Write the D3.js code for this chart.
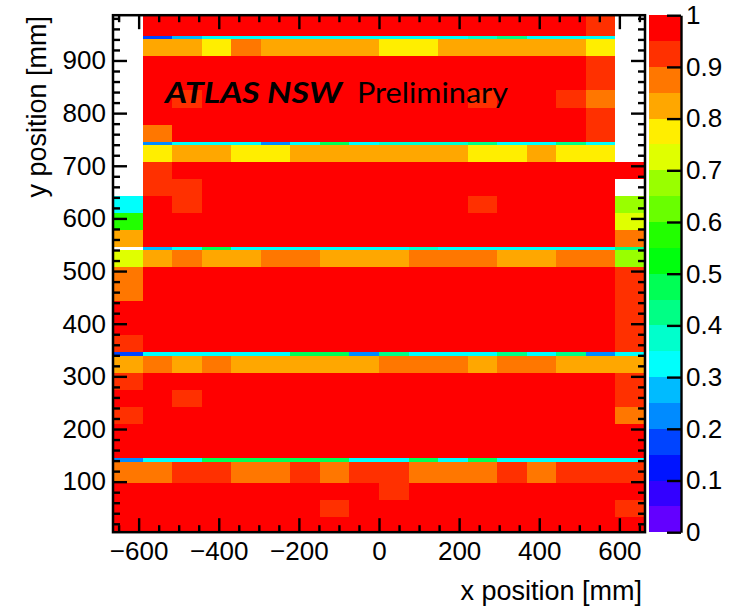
<!DOCTYPE html>
<html>
<head>
<meta charset="utf-8">
<script src="https://cdn.jsdelivr.net/npm/d3@7"></script>
<style>
  body { margin: 0; background: #fff; }
  svg { display: block; }
</style>
</head>
<body>
<div id="chart"></div>
<script>
const width = 742;
const height = 612;
const frame = { left: 113, right: 645, top: 15.2, bottom: 532.2 };

// histogram binning
const xMin = -664, xMax = 664, nBinsX = 18;
// y bin edges in mm, bottom -> top (narrow bins are the gaps between boards)
const yEdges = [4, 33.6, 65.3, 98.1, 136.8, 144.4, 176.8, 209.2, 241.6, 274, 306.4, 338.8,
  346.5, 378.6, 410.7, 442.8, 474.9, 507, 539.1, 545.8, 578.1, 610.4, 642.7, 675, 707.3, 739.6,
  745.8, 778.2, 810.6, 843, 875.4, 907.8, 940, 946.6, 986];

// efficiency per cell, rows listed top -> bottom, 18 x-bins each (null = empty)
const efficiency = [
  [null,.97,.97,.97,.97,.97,.97,.97,.97,.97,.97,.97,.97,.97,.97,.97,.93,null],
  [null,.18,.28,.33,.33,.33,.33,.33,.33,.33,.33,.33,.38,.43,.33,.33,.33,null],
  [null,.83,.83,.78,.88,.83,.83,.83,.83,.78,.78,.83,.83,.83,.83,.83,.78,null],
  [null,.97,.97,.97,.97,.97,.97,.97,.97,.97,.97,.97,.97,.97,.97,.97,.93,null],
  [null,.97,.97,.97,.97,.97,.97,.97,.97,.97,.97,.97,.97,.97,.97,.97,.93,null],
  [null,.97,.93,.97,.97,.97,.97,.97,.97,.97,.97,.97,.93,.97,.97,.93,.88,null],
  [null,.97,.97,.97,.97,.97,.97,.97,.97,.97,.97,.97,.97,.97,.97,.97,.93,null],
  [null,.88,.97,.97,.97,.97,.97,.97,.97,.97,.97,.97,.97,.97,.97,.97,.93,null],
  [null,.23,.33,.33,.33,.23,.33,.48,.33,.38,.38,.38,.43,.33,.33,.43,.33,null],
  [null,.78,.83,.83,.78,.78,.83,.83,.83,.83,.83,.83,.78,.78,.83,.78,.78,null],
  [null,.93,.97,.97,.97,.97,.97,.97,.97,.97,.97,.97,.97,.97,.97,.97,.97,.97],
  [null,.93,.93,.97,.97,.97,.97,.97,.97,.97,.97,.97,.97,.97,.97,.97,.97,null],
  [.33,.97,.93,.97,.97,.97,.97,.97,.97,.97,.97,.97,.93,.97,.97,.97,.97,.68],
  [.58,.97,.97,.97,.97,.97,.97,.97,.97,.97,.97,.97,.97,.97,.97,.97,.97,.73],
  [.83,.97,.97,.97,.97,.97,.97,.97,.97,.97,.97,.97,.97,.97,.97,.97,.97,.88],
  [null,.28,.33,.48,.33,.33,.33,.33,.33,.33,.38,.33,.33,.33,.33,.33,.33,.43],
  [.73,.83,.88,.83,.83,.88,.88,.83,.83,.83,.88,.88,.88,.83,.83,.88,.88,.68],
  [.88,.97,.97,.97,.97,.97,.97,.97,.97,.97,.97,.97,.97,.97,.97,.97,.97,.93],
  [.88,.97,.97,.97,.97,.97,.97,.97,.97,.97,.97,.97,.97,.97,.97,.97,.97,.93],
  [.97,.97,.97,.97,.97,.97,.97,.97,.97,.97,.97,.97,.97,.97,.97,.97,.97,.93],
  [.97,.97,.97,.97,.97,.97,.97,.97,.97,.97,.97,.97,.97,.97,.97,.97,.97,.93],
  [.93,.97,.97,.97,.97,.97,.97,.97,.97,.97,.97,.97,.97,.97,.97,.97,.97,.93],
  [.18,.33,.33,.33,.33,.33,.48,.48,.23,.43,.33,.33,.33,.43,.33,.43,.23,.33],
  [.83,.88,.83,.88,.83,.83,.83,.83,.83,.88,.88,.88,.83,.88,.88,.83,.83,.83],
  [.93,.97,.97,.97,.97,.97,.97,.97,.97,.97,.97,.97,.97,.97,.97,.97,.97,.93],
  [.97,.97,.93,.97,.97,.97,.97,.97,.97,.97,.97,.97,.97,.97,.97,.97,.97,.93],
  [.93,.97,.97,.97,.97,.97,.97,.97,.97,.97,.97,.97,.97,.97,.97,.97,.97,.88],
  [.97,.97,.97,.97,.97,.97,.97,.97,.97,.97,.97,.97,.97,.97,.97,.97,.97,.97],
  [.97,.97,.97,.97,.97,.97,.97,.97,.97,.97,.97,.97,.97,.97,.97,.97,.97,.97],
  [.23,.33,.33,.48,.48,.48,.48,.48,.33,.33,.48,.33,.48,.33,.33,.33,.33,.33],
  [.88,.88,.93,.93,.88,.88,.93,.88,.93,.93,.88,.88,.88,.93,.88,.93,.93,.93],
  [.97,.97,.97,.97,.97,.97,.97,.97,.97,.93,.97,.97,.97,.97,.97,.97,.97,.97],
  [.97,.97,.97,.97,.97,.97,.97,.93,.97,.97,.97,.97,.97,.97,.97,.97,.97,.93],
  [.97,.97,.97,.97,.97,.97,.97,.97,.97,.97,.97,.97,.97,.97,.97,.97,.97,.97]
];

const xTicks = [-600, -400, -200, 0, 200, 400, 600];
const yTicks = [100, 200, 300, 400, 500, 600, 700, 800, 900];
const zTicks = [0, 0.1, 0.2, 0.3, 0.4, 0.5, 0.6, 0.7, 0.8, 0.9, 1];

const xTitle = "x position [mm]";
const yTitle = "y position [mm]";

// ROOT "pretty" palette, 20 contour levels
const nLevels = 20;
const palette = d3.range(nLevels).map(i => {
    const idx = Math.floor((i + 0.99) * 50 / nLevels);
    return idx >= 49 ? "#ff0000" : d3.hsl(280 - (idx + 1) * 5.6, 1, 0.5).formatHex();
});

const svg = d3.select("#chart")
    .append("svg")
    .attr("width", width)
    .attr("height", height)
    .style("font-family", "'Liberation Sans', Arial, sans-serif");

svg.append("rect").attr("width", width).attr("height", height).attr("fill", "#fff");

const x = d3.scaleLinear().domain([xMin, xMax]).range([frame.left, frame.right]);
const y = d3.scaleLinear().domain([yEdges[0], yEdges[yEdges.length - 1]]).range([frame.bottom, frame.top]);
const z = d3.scaleLinear().domain([0, 1]).range([frame.bottom, frame.top]);
const color = d3.scaleQuantize().domain([0, 1]).range(palette);

const binW = (xMax - xMin) / nBinsX;
const nRows = efficiency.length;
const cells = [];
efficiency.forEach((row, r) => {
    const lo = yEdges[nRows - 1 - r], hi = yEdges[nRows - r];
    row.forEach((v, c) => {
        if (v == null) return;
        cells.push({ x0: xMin + c * binW, x1: xMin + (c + 1) * binW, y0: lo, y1: hi, v: v });
    });
});

svg.append("g")
    .attr("shape-rendering", "crispEdges")
    .selectAll("rect")
    .data(cells)
    .enter()
    .append("rect")
    .attr("x", d => x(d.x0))
    .attr("y", d => y(d.y1))
    .attr("width", d => x(d.x1) - x(d.x0))
    .attr("height", d => y(d.y0) - y(d.y1))
    .attr("fill", d => color(d.v));

// colour bar
svg.append("g")
    .attr("shape-rendering", "crispEdges")
    .selectAll("rect")
    .data(palette)
    .enter()
    .append("rect")
    .attr("x", 648.5)
    .attr("width", 32.5)
    .attr("y", (d, i) => z((i + 1) / nLevels))
    .attr("height", (d, i) => z(i / nLevels) - z((i + 1) / nLevels))
    .attr("fill", d => d);

// label
svg.append("text")
    .attr("x", 165)
    .attr("y", 103)
    .attr("textLength", 177)
    .attr("lengthAdjust", "spacingAndGlyphs")
    .style("font-family", "Lato, 'DejaVu Sans', sans-serif")
    .style("font-weight", "bold")
    .style("font-style", "italic")
    .style("font-size", "28px")
    .text("ATLAS NSW");
svg.append("text")
    .attr("x", 357)
    .attr("y", 103)
    .attr("textLength", 151)
    .attr("lengthAdjust", "spacingAndGlyphs")
    .style("font-family", "Lato, 'DejaVu Sans', sans-serif")
    .style("font-size", "28px")
    .text("Preliminary");

// axes
const majorLen = 14, minorLen = 7;
const xMinor = d3.range(-650, 651, 50).filter(d => d % 200 !== 0);
const yMinor = d3.range(20, 981, 20).filter(d => d % 100 !== 0);

function styleAxis(g) {
    g.select(".domain").remove();
    g.selectAll(".tick line").attr("stroke", "#000").attr("stroke-width", 2.4);
    g.selectAll(".tick text")
        .attr("fill", "#000")
        .style("font-family", "'Liberation Sans', Arial, sans-serif")
        .style("font-size", "26px");
}

svg.append("g")
    .attr("transform", `translate(0,${frame.bottom})`)
    .call(d3.axisBottom(x).tickValues(xTicks).tickSize(-majorLen).tickPadding(9).tickFormat(d3.format("d")))
    .call(styleAxis);
svg.append("g")
    .attr("transform", `translate(0,${frame.bottom})`)
    .call(d3.axisBottom(x).tickValues(xMinor).tickSize(-minorLen).tickFormat(""))
    .call(styleAxis);
svg.append("g")
    .attr("transform", `translate(0,${frame.top})`)
    .call(d3.axisTop(x).tickValues(xTicks).tickSize(-majorLen).tickFormat(""))
    .call(styleAxis);
svg.append("g")
    .attr("transform", `translate(0,${frame.top})`)
    .call(d3.axisTop(x).tickValues(xMinor).tickSize(-minorLen).tickFormat(""))
    .call(styleAxis);

svg.append("g")
    .attr("transform", `translate(${frame.left},0)`)
    .call(d3.axisLeft(y).tickValues(yTicks).tickSize(-majorLen).tickPadding(7).tickFormat(d3.format("d")))
    .call(styleAxis);
svg.append("g")
    .attr("transform", `translate(${frame.left},0)`)
    .call(d3.axisLeft(y).tickValues(yMinor).tickSize(-minorLen).tickFormat(""))
    .call(styleAxis);
svg.append("g")
    .attr("transform", `translate(${frame.right},0)`)
    .call(d3.axisRight(y).tickValues(yTicks).tickSize(-majorLen).tickFormat(""))
    .call(styleAxis);
svg.append("g")
    .attr("transform", `translate(${frame.right},0)`)
    .call(d3.axisRight(y).tickValues(yMinor).tickSize(-minorLen).tickFormat(""))
    .call(styleAxis);

svg.append("rect")
    .attr("x", frame.left)
    .attr("y", frame.top)
    .attr("width", frame.right - frame.left)
    .attr("height", frame.bottom - frame.top)
    .attr("fill", "none")
    .attr("stroke", "#000")
    .attr("stroke-width", 2.5);

// colour bar axis
svg.append("g")
    .attr("transform", "translate(681,0)")
    .call(d3.axisRight(z).tickValues(zTicks).tickSize(-majorLen).tickSizeOuter(0).tickPadding(5)
        .tickFormat(d3.format("~g")))
    .call(g => {
        g.select(".domain").attr("stroke", "#000").attr("stroke-width", 2.4);
        g.selectAll(".tick line").attr("stroke", "#000").attr("stroke-width", 2.4);
        g.selectAll(".tick text").attr("fill", "#000")
            .style("font-family", "'Liberation Sans', Arial, sans-serif")
            .style("font-size", "26px");
    });

// axis titles
svg.append("text")
    .attr("x", 642)
    .attr("y", 600)
    .attr("text-anchor", "end")
    .style("font-size", "27px")
    .text(xTitle);
svg.append("text")
    .attr("transform", "translate(46,16) rotate(-90)")
    .attr("text-anchor", "end")
    .style("font-size", "27px")
    .text(yTitle);
</script>
</body>
</html>
